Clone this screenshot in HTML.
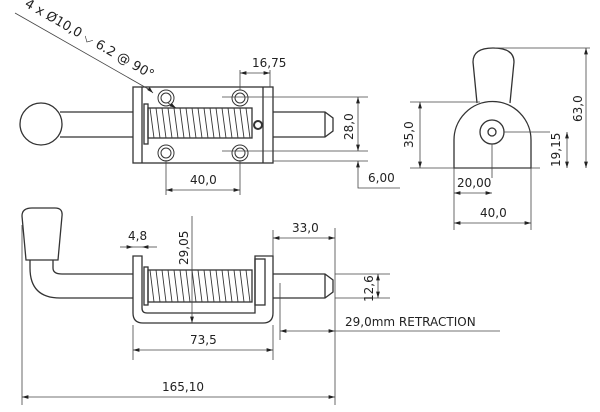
<!DOCTYPE html>
<html><head><meta charset="utf-8"><style>
html,body{margin:0;padding:0;background:#fff}
svg{display:block}
text{font-family:"DejaVu Sans","Liberation Sans",sans-serif;font-size:12px;fill:#222}
</style></head><body>
<svg width="600" height="412" viewBox="0 0 600 412" xmlns="http://www.w3.org/2000/svg">
<defs>
<marker id="a" viewBox="0 0 10 6" refX="10" refY="3" markerWidth="8" markerHeight="5" orient="auto-start-reverse"><path d="M0,0L10,3L0,6z" fill="#222"/></marker>
</defs>
<g fill="none" stroke="#333" stroke-width="1.3">
<circle cx="41" cy="124" r="21"/>
<path d="M60,112H133M60,137H133"/>
<rect x="133" y="87" width="140" height="76"/>
<path d="M142,87V163M263,87V163"/>
<rect x="144" y="104" width="4" height="40"/>
<rect x="148" y="108" width="104" height="30"/>
<path d="M273,112H325L333,118V131L325,137H273M325,112V137"/>
<circle cx="258" cy="125" r="4" stroke-width="2"/>
<g stroke-width="1">
<circle cx="166" cy="98" r="8"/><circle cx="166" cy="98" r="5"/>
<circle cx="240" cy="98" r="8"/><circle cx="240" cy="98" r="5"/>
<circle cx="166" cy="153" r="8"/><circle cx="166" cy="153" r="5"/>
<circle cx="240" cy="153" r="8"/><circle cx="240" cy="153" r="5"/>
</g>
</g>
<g stroke="#333" stroke-width="0.9" fill="none">
<path d="M150,108l4,30M156,108l4,30M162,108l4,30M168,108l4,30M174,108l4,30M180,108l4,30M186,108l4,30M192,108l4,30M198,108l4,30M204,108l4,30M210,108l4,30M216,108l4,30M222,108l4,30M228,108l4,30M234,108l4,30M240,108l4,30M246,108l4,30"/>
</g>
<g stroke="#444" stroke-width="0.8" fill="none">
<path d="M240,70V90M270,70V87"/>
<path d="M240,73H270" marker-start="url(#a)" marker-end="url(#a)"/>
<path d="M222,97H368M222,151H368M273,161H368"/>
<path d="M358,97V151" marker-start="url(#a)" marker-end="url(#a)"/>
<path d="M358,175V161" marker-end="url(#a)"/>
<path d="M358,175V188H400"/>
<path d="M166,160V195M240,160V195"/>
<path d="M166,190H240" marker-start="url(#a)" marker-end="url(#a)"/>
<path d="M15,13L150,90"/>
<path d="M150,90L153,93" marker-end="url(#a)"/>
<path d="M168,103L176,108" marker-end="url(#a)"/>
</g>
<text x="252" y="67">16,75</text>
<text x="190" y="184">40,0</text>
<text transform="translate(353,140) rotate(-90)">28,0</text>
<text x="368" y="182">6,00</text>
<text transform="translate(24,6) rotate(30)" style="font-size:13px">4 x Ø10,0 ⌵ 6.2 @ 90°</text>

<g fill="none" stroke="#333" stroke-width="1.3">
<path d="M26,260L22,216Q22,208 32,208H55Q63,208 62,216L58,260Z"/>
<path d="M30,260V268Q30,298 60,298H133M53,260V268Q53,274 62,274H133"/>
<path d="M133,256H142V308Q142,313 147,313H255V256H273V313Q273,323 263,323H143Q133,323 133,313Z"/>
<rect x="255" y="259" width="10" height="46"/>
<rect x="144" y="267" width="4" height="38"/>
<rect x="148" y="270" width="104" height="32"/>
<path d="M273,274H325L333,280V292L325,298H273M325,274V298"/>
</g>
<g stroke="#333" stroke-width="0.9" fill="none">
<path d="M150,270l4,32M156,270l4,32M162,270l4,32M168,270l4,32M174,270l4,32M180,270l4,32M186,270l4,32M192,270l4,32M198,270l4,32M204,270l4,32M210,270l4,32M216,270l4,32M222,270l4,32M228,270l4,32M234,270l4,32M240,270l4,32M246,270l4,32"/>
</g>
<g stroke="#444" stroke-width="0.8" fill="none">
<path d="M22,225V405M335,228V405M273,230V256M133,325V360M273,325V360M280,283V340"/>
<path d="M120,247H133" marker-end="url(#a)"/><path d="M157,247H142" marker-end="url(#a)"/>
<path d="M133,247H142"/>
<path d="M192,216V323" marker-end="url(#a)"/>
<path d="M273,238H335" marker-start="url(#a)" marker-end="url(#a)"/>
<path d="M335,274H390M335,298H390"/>
<path d="M378,274V298" marker-start="url(#a)" marker-end="url(#a)"/>
<path d="M280,331H335" marker-start="url(#a)" marker-end="url(#a)"/>
<path d="M335,331H500"/>
<path d="M133,350H273" marker-start="url(#a)" marker-end="url(#a)"/>
<path d="M22,397H335" marker-start="url(#a)" marker-end="url(#a)"/>
</g>
<text x="128" y="240">4,8</text>
<text transform="translate(188,265) rotate(-90)">29,05</text>
<text x="292" y="232">33,0</text>
<text transform="translate(373,302) rotate(-90)">12,6</text>
<text x="345" y="326">29,0mm RETRACTION</text>
<text x="190" y="344">73,5</text>
<text x="162" y="391">165,10</text>

<g fill="none" stroke="#333" stroke-width="1.3">
<path d="M477,103L473,62Q473,48 493,48Q514,48 514,62L510,103"/>
<path d="M454,168V140A38.5,38.5 0 0 1 531,140V168Z"/>
<circle cx="492" cy="132" r="12"/>
<circle cx="492" cy="132" r="4"/>
</g>
<g stroke="#444" stroke-width="0.8" fill="none">
<path d="M410,102H480M410,168H540M495,48H590M504,132H550M454,168V230M531,168V230M492,144V178"/>
<path d="M420,102V168" marker-start="url(#a)" marker-end="url(#a)"/>
<path d="M586,48V168" marker-start="url(#a)" marker-end="url(#a)"/>
<path d="M567,132V168" marker-start="url(#a)" marker-end="url(#a)"/>
<path d="M454,193H492" marker-start="url(#a)" marker-end="url(#a)"/>
<path d="M454,223H531" marker-start="url(#a)" marker-end="url(#a)"/>
</g>
<text transform="translate(413,148) rotate(-90)">35,0</text>
<text transform="translate(582,122) rotate(-90)">63,0</text>
<text transform="translate(560,167) rotate(-90)">19,15</text>
<text x="457" y="187">20,00</text>
<text x="480" y="217">40,0</text>
</svg>
</body></html>
